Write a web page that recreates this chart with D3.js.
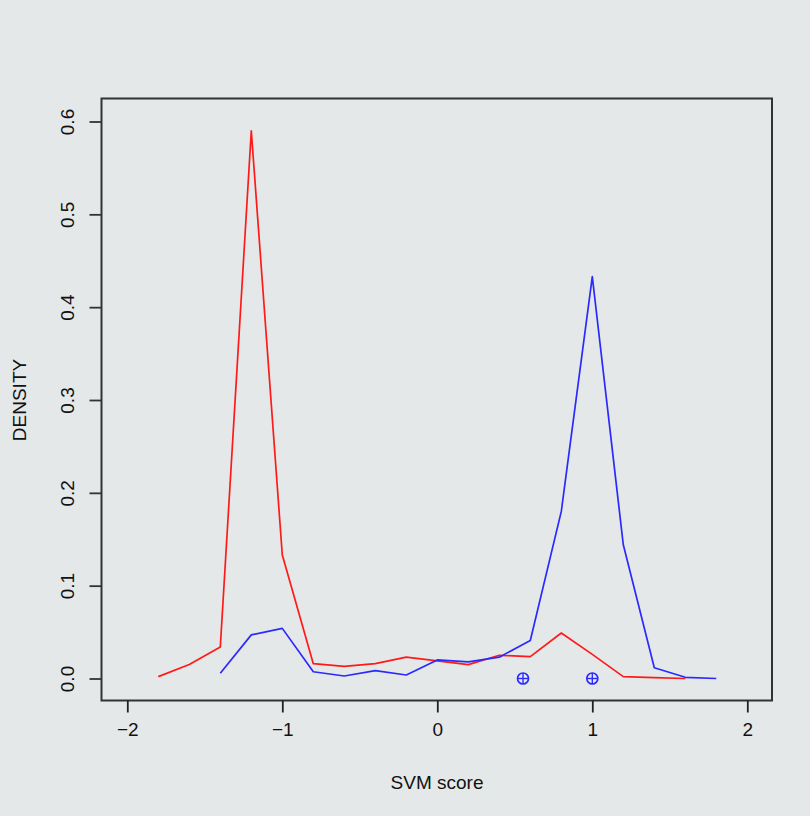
<!DOCTYPE html>
<html>
<head>
<meta charset="utf-8">
<script src="https://cdn.jsdelivr.net/npm/d3@7"></script>
<style>
  html, body { margin: 0; padding: 0; background: #e5e8e8; }
  svg { display: block; }
  text { font-family: "Liberation Sans", Arial, sans-serif; fill: #111; }
</style>
</head>
<body>
<script>
// ---- data ----
const redX = [-1.8, -1.6, -1.4, -1.2, -1.0, -0.8, -0.6, -0.4, -0.2, 0.0, 0.2, 0.4, 0.6, 0.8, 1.0, 1.2, 1.4, 1.6];
const redY = [0.002, 0.015, 0.034, 0.590, 0.133, 0.016, 0.013, 0.016, 0.023, 0.019, 0.015, 0.025, 0.0235, 0.049, 0.026, 0.002, 0.001, 0.0];
const blueX = [-1.4, -1.2, -1.0, -0.8, -0.6, -0.4, -0.2, 0.0, 0.2, 0.4, 0.6, 0.8, 1.0, 1.2, 1.4, 1.6, 1.8];
const blueY = [0.0056, 0.047, 0.054, 0.0073, 0.0027, 0.0084, 0.0038, 0.020, 0.018, 0.023, 0.041, 0.180, 0.433, 0.144, 0.0116, 0.0013, 0.0];
const pointX = [0.553, 1.0];
const pointY = [0.0, 0.0];
const xTicks = [-2, -1, 0, 1, 2];
const yTicks = [0.0, 0.1, 0.2, 0.3, 0.4, 0.5, 0.6];
const xLabel = "SVM score";
const yLabel = "DENSITY";

// ---- layout ----
const W = 810, H = 816;
const box = { left: 101.5, right: 772, top: 98.5, bottom: 700.5 };

const x = d3.scaleLinear().domain([-2, 2]).range([127.3, 747.3]);
const y = d3.scaleLinear().domain([0, 0.6]).range([678.5, 121.5]);

const svg = d3.select("body").append("svg").attr("width", W).attr("height", H);

svg.append("rect").attr("width", W).attr("height", H).attr("fill", "#e5e8e8");

// frame
svg.append("rect")
  .attr("x", box.left).attr("y", box.top)
  .attr("width", box.right - box.left).attr("height", box.bottom - box.top)
  .attr("fill", "none").attr("stroke", "#333").attr("stroke-width", 2);

const fmtY = d => d.toFixed(1);
const fmtX = d => d < 0 ? "\u2212" + Math.abs(d) : String(d);

// x axis
const xAxis = d3.axisBottom(x).tickValues(xTicks).tickSize(12).tickPadding(10).tickFormat(fmtX);
const gx = svg.append("g").attr("transform", `translate(0,${box.bottom})`).call(xAxis);
gx.select(".domain").remove();
gx.selectAll(".tick line").attr("stroke", "#222").attr("stroke-width", 1.8);
gx.selectAll(".tick text").attr("font-size", 19).attr("font-family", "Liberation Sans, Arial, sans-serif").attr("fill", "#111");

// y axis
const yAxis = d3.axisLeft(y).tickValues(yTicks).tickSize(12).tickPadding(0).tickFormat(fmtY);
const gy = svg.append("g").attr("transform", `translate(${box.left},0)`).call(yAxis);
gy.select(".domain").remove();
gy.selectAll(".tick line").attr("stroke", "#333").attr("stroke-width", 1.8);
gy.selectAll(".tick text")
  .attr("font-size", 19).attr("font-family", "Liberation Sans, Arial, sans-serif").attr("fill", "#111")
  .attr("x", 0).attr("dy", null)
  .attr("text-anchor", "middle")
  .attr("transform", "translate(-28,0) rotate(-90)")
  .attr("y", 0);

// lines
const line = d3.line().x(d => x(d[0])).y(d => y(d[1]));
svg.append("path")
  .datum(redX.map((v, i) => [v, redY[i]]))
  .attr("d", line).attr("fill", "none").attr("stroke", "#ff1a1a").attr("stroke-width", 1.7)
  .attr("stroke-linejoin", "round");
svg.append("path")
  .datum(blueX.map((v, i) => [v, blueY[i]]))
  .attr("d", line).attr("fill", "none").attr("stroke", "#2a2aff").attr("stroke-width", 1.7)
  .attr("stroke-linejoin", "round");

// circle-plus points
const pts = svg.append("g").selectAll("g").data(pointX.map((v, i) => [v, pointY[i]])).join("g")
  .attr("transform", d => `translate(${x(d[0])},${y(d[1])})`);
pts.append("circle").attr("r", 5.5).attr("fill", "none").attr("stroke", "#2a2aff").attr("stroke-width", 1.7);
pts.append("line").attr("x1", -5.5).attr("x2", 5.5).attr("stroke", "#2a2aff").attr("stroke-width", 1.4);
pts.append("line").attr("y1", -5.5).attr("y2", 5.5).attr("stroke", "#2a2aff").attr("stroke-width", 1.4);

// axis titles
svg.append("text").attr("x", 437).attr("y", 789).attr("text-anchor", "middle")
  .attr("font-size", 19).text(xLabel);
svg.append("text").attr("transform", "translate(26,400) rotate(-90)").attr("text-anchor", "middle")
  .attr("font-size", 19).text(yLabel);
</script>
</body>
</html>
